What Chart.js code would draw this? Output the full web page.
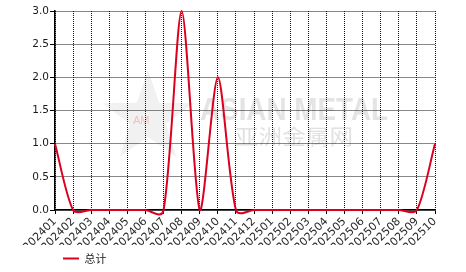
<!DOCTYPE html>
<html>
<head>
<meta charset="utf-8">
<script src="https://cdn.jsdelivr.net/npm/chart.js@4.4.1/dist/chart.umd.min.js"></script>
<style>
html,body{margin:0;padding:0;background:#fff;}
#wrap{width:466px;height:272px;position:relative;}
</style>
</head>
<body>
<div id="wrap"><canvas id="c" width="466" height="272"></canvas></div>
<script>
const categories = ["202401","202402","202403","202404","202405","202406","202407","202408","202409","202410","202411","202412","202501","202502","202503","202504","202505","202506","202507","202508","202509","202510"];
const totalValues = [1,0,0,0,0,0,0,3,0,2,0,0,0,0,0,0,0,0,0,0,0,1];
const seriesName = "总计";
const yTicks = [0,0.5,1,1.5,2,2.5,3];

function fitText(ctx, text, x, y, w) {
  const m = ctx.measureText(text).width;
  ctx.save();
  ctx.translate(x, y);
  ctx.scale(w / m, 1);
  ctx.fillText(text, 0, 0);
  ctx.restore();
}

// blend Chart.js control points with a uniform cardinal spline (from the library's point positions)
const blendSpline = {
  id: 'blendSpline',
  beforeDatasetsDraw(chart) {
    const k = 0.0667, w = 0.5;
    chart.data.datasets.forEach((ds, di) => {
      const meta = chart.getDatasetMeta(di);
      const line = meta.dataset;
      const pts = meta.data;
      if (!line || !pts.length) return;
      line.updateControlPoints(chart.chartArea);
      for (let i = 0; i < pts.length; i++) {
        const p = pts[i];
        const a = pts[Math.max(0, i - 1)];
        const b = pts[Math.min(pts.length - 1, i + 1)];
        const dx = b.x - a.x, dy = b.y - a.y;
        p.cp1x = w * p.cp1x + (1 - w) * (p.x - k * dx);
        p.cp1y = w * p.cp1y + (1 - w) * (p.y - k * dy);
        p.cp2x = w * p.cp2x + (1 - w) * (p.x + k * dx);
        p.cp2y = w * p.cp2y + (1 - w) * (p.y + k * dy);
      }
      line._pointsUpdated = true;
      delete line._path;
    });
  }
};

const watermark = {
  id: 'watermark',
  beforeDraw(chart) {
    const ctx = chart.ctx;
    ctx.save();
    ctx.fillStyle = 'rgba(215,215,215,0.35)';
    ctx.beginPath();
    const cx = 148, cy = 118, R = 48, r = 19;
    for (let i = 0; i < 10; i++) {
      const a = -Math.PI / 2 + i * Math.PI / 5;
      const rr = i % 2 === 0 ? R : r;
      const px = cx + rr * Math.cos(a), py = cy + rr * Math.sin(a);
      if (i === 0) ctx.moveTo(px, py); else ctx.lineTo(px, py);
    }
    ctx.closePath();
    ctx.fill();
    ctx.fillStyle = 'rgba(205,205,205,0.55)';
    ctx.textBaseline = 'alphabetic';
    ctx.textAlign = 'left';
    ctx.font = 'bold 32px "Liberation Sans", Arial, sans-serif';
    fitText(ctx, 'ASIAN METAL', 200, 120, 188);
    ctx.fillStyle = 'rgba(200,200,200,0.55)';
    ctx.font = '21px "Noto Sans CJK SC", sans-serif';
    fitText(ctx, '亚洲金属网', 235, 144, 118);
    ctx.fillStyle = 'rgba(240,160,160,0.6)';
    ctx.font = '11px "Liberation Sans", Arial, sans-serif';
    ctx.fillText('AM', 133, 124);
    ctx.restore();
  },
  afterLayout(chart) {
    const lg = chart.legend;
    if (lg) {
      const h = lg.height;
      lg.left = 57;
      lg.right = 57 + (lg.width || 100);
      lg.top = 247;
      lg.bottom = 247 + h;
    }
  }
};

new Chart(document.getElementById('c'), {
  type: 'line',
  data: {
    labels: categories,
    datasets: [{
      label: seriesName,
      data: totalValues,
      borderColor: '#dc0020',
      backgroundColor: '#dc0020',
      borderWidth: 2,
      pointRadius: 0,
      tension: 0.4,
      fill: false,
      clip: false
    }]
  },
  options: {
    responsive: false,
    animation: false,
    devicePixelRatio: 1,
    elements: { line: { capBezierPoints: false } },
    layout: { padding: { top: 11, right: 31, left: 0, bottom: 0 } },
    plugins: {
      legend: {
        position: 'bottom',
        align: 'start',
        labels: {
          usePointStyle: true,
          pointStyle: 'line',
          pointStyleWidth: 16,
          boxHeight: 2,
          color: '#222',
          font: { size: 11, family: '"Noto Sans CJK SC", sans-serif' },
          padding: 6
        }
      },
      tooltip: { enabled: false }
    },
    scales: {
      x: {
        offset: false,
        grid: { color: '#111', tickBorderDash: [], tickColor: '#000', tickLength: 4, drawTicks: true },
        border: { display: true, color: '#000', width: 1.5, dash: [1,1] },
        ticks: { autoSkip: false, minRotation: 45, maxRotation: 45, color: '#2a2a2a', padding: 1, font: { size: 11, family: '"DejaVu Sans", sans-serif' } },
        afterFit(s) { s.height = 62 - (s.chart.legend ? s.chart.legend.height : 0); }
      },
      y: {
        min: 0, max: 3,
        afterBuildTicks(s) { s.ticks = yTicks.map(v => ({ value: v })); },
        grid: { color: '#111', tickBorderDash: [], tickColor: '#000', tickLength: 5, drawTicks: true },
        border: { display: true, color: '#000', width: 1.5, dash: [1,1] },
        ticks: { color: '#1a1a1a', padding: 1, font: { size: 10.5, family: '"DejaVu Sans", sans-serif' }, callback: v => Number(v).toFixed(1) },
        afterFit(s) { s.width = 55; }
      }
    }
  },
  plugins: [watermark, blendSpline]
});
</script>
</body>
</html>
